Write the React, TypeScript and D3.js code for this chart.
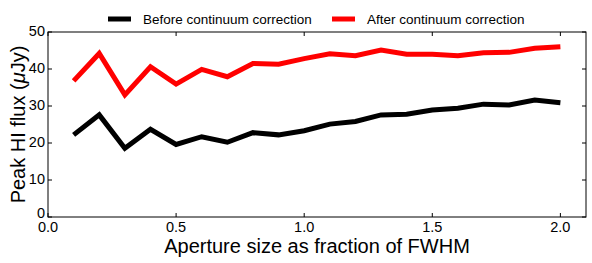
import React, { useEffect, useRef } from "react";
import * as d3 from "d3";

const apertures = [0.1, 0.2, 0.3, 0.4, 0.5, 0.6, 0.7, 0.8, 0.9, 1.0, 1.1, 1.2, 1.3, 1.4, 1.5, 1.6, 1.7, 1.8, 1.9, 2.0];
const beforeFlux = [22.2, 27.6, 18.6, 23.7, 19.6, 21.7, 20.2, 22.8, 22.2, 23.3, 25.1, 25.8, 27.6, 27.8, 28.9, 29.4, 30.5, 30.3, 31.6, 30.9];
const afterFlux = [36.8, 44.2, 33.0, 40.6, 35.9, 39.9, 37.9, 41.5, 41.3, 42.8, 44.1, 43.6, 45.1, 44.0, 44.0, 43.6, 44.4, 44.5, 45.6, 46.0];
const xTicks = [0.0, 0.5, 1.0, 1.5, 2.0];
const yTicks = [0, 10, 20, 30, 40, 50];
const seriesNames = ["Before continuum correction", "After continuum correction"];
const seriesColors = ["#000000", "#ff0000"];

const App = () => {
  const svgRef = useRef<SVGSVGElement>(null);

  useEffect(() => {
    const width = 592;
    const height = 263;
    const margin = { top: 32, right: 6, bottom: 46, left: 48 };
    const font = "'Liberation Sans', Arial, sans-serif";

    const svg = d3.select(svgRef.current);
    svg.selectAll("*").remove();

    const x = d3.scaleLinear().domain([0, 2.1]).range([margin.left, width - margin.right]);
    const y = d3.scaleLinear().domain([0, 50]).range([height - margin.bottom, margin.top]);

    const series = [beforeFlux, afterFlux];
    const line = d3
      .line<number>()
      .x((_, i) => x(apertures[i]))
      .y((d) => y(d));

    const plot = svg.append("g");
    series.forEach((vals, k) => {
      plot
        .append("path")
        .datum(vals)
        .attr("d", line)
        .attr("fill", "none")
        .attr("stroke", seriesColors[k])
        .attr("stroke-width", 5)
        .attr("stroke-linejoin", "miter");
    });

    // frame
    svg
      .append("rect")
      .attr("x", x(0))
      .attr("y", y(50))
      .attr("width", x(2.1) - x(0))
      .attr("height", y(0) - y(50))
      .attr("fill", "none")
      .attr("stroke", "#000")
      .attr("stroke-width", 1);

    const tl = 4;
    // ticks point inward on all four sides
    const gx = svg.append("g");
    xTicks.forEach((t) => {
      gx.append("line").attr("x1", x(t)).attr("x2", x(t)).attr("y1", y(0)).attr("y2", y(0) - tl).attr("stroke", "#000");
      gx.append("line").attr("x1", x(t)).attr("x2", x(t)).attr("y1", y(50)).attr("y2", y(50) + tl).attr("stroke", "#000");
      gx.append("text")
        .attr("x", x(t))
        .attr("y", y(0) + 15)
        .attr("text-anchor", "middle")
        .attr("font-family", font)
        .attr("font-size", 14.5)
        .text(d3.format(".1f")(t));
    });

    const gy = svg.append("g");
    yTicks.forEach((t) => {
      gy.append("line").attr("x1", x(0)).attr("x2", x(0) + tl).attr("y1", y(t)).attr("y2", y(t)).attr("stroke", "#000");
      gy.append("line").attr("x1", x(2.1)).attr("x2", x(2.1) - tl).attr("y1", y(t)).attr("y2", y(t)).attr("stroke", "#000");
      gy.append("text")
        .attr("x", x(0) - 3)
        .attr("y", y(t) - (t === 0 ? 3 : 0))
        .attr("dy", "0.3em")
        .attr("text-anchor", "end")
        .attr("font-family", font)
        .attr("font-size", 14.5)
        .text(t);
    });

    // axis labels, centred on the axes box
    const xMid = (x(0) + x(2.1)) / 2;
    svg
      .append("text")
      .attr("x", xMid)
      .attr("y", 253)
      .attr("text-anchor", "middle")
      .attr("font-family", font)
      .attr("font-size", 20)
      .text("Aperture size as fraction of FWHM");

    const yl = svg
      .append("text")
      .attr("transform", `translate(25,${(y(0) + y(50)) / 2}) rotate(-90)`)
      .attr("text-anchor", "middle")
      .attr("font-family", font)
      .attr("font-size", 20);
    yl.append("tspan").text("Peak HI flux (");
    yl.append("tspan").attr("font-style", "italic").text("μ");
    yl.append("tspan").text("Jy)");

    // legend
    const legendX = [108, 332];
    seriesNames.forEach((name, k) => {
      const g = svg.append("g");
      g.append("line")
        .attr("x1", legendX[k])
        .attr("x2", legendX[k] + 23)
        .attr("y1", 19)
        .attr("y2", 19)
        .attr("stroke", seriesColors[k])
        .attr("stroke-width", 5);
      g.append("text")
        .attr("x", legendX[k] + 35)
        .attr("y", 19)
        .attr("dy", "0.35em")
        .attr("font-family", font)
        .attr("font-size", 13.5)
        .text(name);
    });
  }, []);

  return (
    <svg
      ref={svgRef}
      width={592}
      height={263}
      style={{ position: "absolute", left: 0, top: 0, background: "#fff" }}
    />
  );
};

export default App;
